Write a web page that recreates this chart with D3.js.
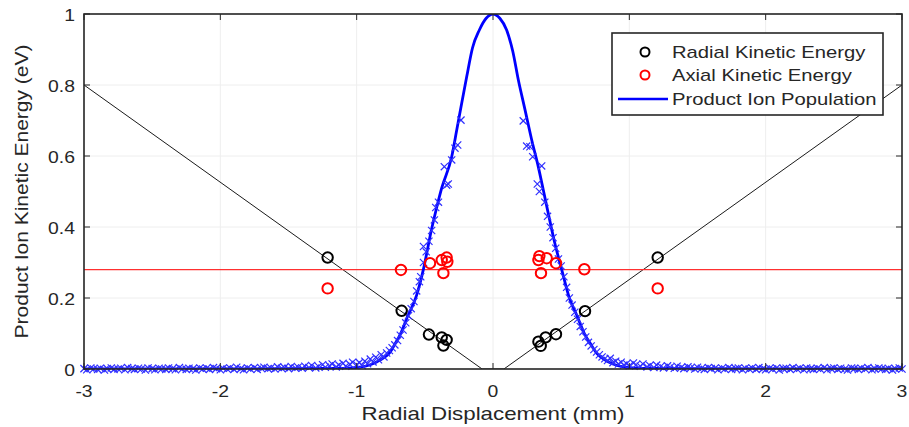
<!DOCTYPE html>
<html>
<head>
<meta charset="utf-8">
<script src="https://cdn.jsdelivr.net/npm/d3@7"></script>
<style>
  body { margin: 0; background: #fff; }
  svg { display: block; font-family: "Liberation Sans", Arial, sans-serif; }
</style>
</head>
<body>
<svg id="chart" width="909" height="427"></svg>
<script>

// ---- data ----
let x_ticks = [-3, -2, -1, 0, 1, 2, 3];
let y_ticks = [0, 0.2, 0.4, 0.6, 0.8, 1];
let y_tick_labels = ["0", "0.2", "0.4", "0.6", "0.8", "1"];

// radial kinetic energy (black circles)
let radial_x = [-1.213, -0.670, -0.470, -0.376, -0.340, -0.364, 1.208, 0.675, 0.462, 0.386, 0.333, 0.350];
let radial_y = [0.314, 0.164, 0.097, 0.089, 0.082, 0.066, 0.314, 0.163, 0.098, 0.089, 0.077, 0.065];

// axial kinetic energy (red circles)
let axial_x = [-1.213, -0.675, -0.462, -0.376, -0.340, -0.335, -0.364, 1.208, 0.670, 0.462, 0.394, 0.333, 0.340, 0.352];
let axial_y = [0.227, 0.279, 0.298, 0.307, 0.314, 0.302, 0.270, 0.227, 0.281, 0.298, 0.312, 0.307, 0.318, 0.270];

// linear fit of the radial energy (V shape) and mean axial energy
let fit_x = [-3, -0.08, 0.08, 3];
let fit_y = [0.8, 0, 0, 0.8];
let axial_mean_x = [-3, 3];
let axial_mean_y = [0.28, 0.28];

// product ion population curve
let pop_x = [-3, -2, -1.5, -1.1, -0.976, -0.9, -0.853, -0.8, -0.756, -0.72, -0.682, -0.63, -0.56, -0.511, -0.45, -0.413,
             -0.376, -0.303, -0.266, -0.230, -0.193, -0.150, -0.100, -0.050, 0,
             0.050, 0.100, 0.145, 0.186, 0.235, 0.284, 0.332, 0.369, 0.41, 0.45, 0.504, 0.56, 0.614, 0.67, 0.72,
             0.76, 0.82, 0.88, 0.956, 1.1, 1.5, 2, 3];
let pop_y = [0, 0, 0.001, 0.002, 0.005, 0.012, 0.02, 0.032, 0.047, 0.07, 0.096, 0.145, 0.208, 0.28, 0.395, 0.455,
             0.51, 0.598, 0.673, 0.748, 0.823, 0.905, 0.955, 0.988, 1,
             0.988, 0.955, 0.895, 0.814, 0.73, 0.645, 0.57, 0.504, 0.43, 0.36, 0.28, 0.2, 0.152, 0.1, 0.068,
             0.045, 0.026, 0.014, 0.006, 0.002, 0.001, 0, 0];

// simulated ions (blue crosses): flat wings and the central peak
let wing_left_x = [
  -3.00, -2.98, -2.95, -2.93, -2.90, -2.88, -2.85, -2.83, -2.80, -2.78, -2.75, -2.73, -2.70, -2.68, -2.65, -2.63,
  -2.60, -2.58, -2.55, -2.53, -2.50, -2.48, -2.45, -2.43, -2.40, -2.38, -2.35, -2.33, -2.30, -2.28, -2.25, -2.23,
  -2.20, -2.18, -2.15, -2.13, -2.10, -2.08, -2.05, -2.03, -2.00, -1.98, -1.95, -1.93, -1.90, -1.88, -1.85, -1.83,
  -1.80, -1.78, -1.75, -1.73, -1.70, -1.68, -1.65, -1.63, -1.60, -1.58, -1.55, -1.53, -1.50, -1.48, -1.45, -1.43,
  -1.40, -1.38, -1.35, -1.33, -1.30, -1.28, -1.25, -1.23, -1.20, -1.18, -1.15, -1.13, -1.10, -1.08, -1.05, -1.03
];
let wing_left_y = [
  0.001, -0.002, 0.003, 0.000, -0.001, 0.002, -0.003, 0.001, 0.003, -0.001, 0.000, 0.002, -0.002, 0.004, 0.001, -0.001,
  0.002, 0.000, -0.003, 0.003, 0.001, -0.002, 0.002, 0.000, -0.001, 0.003, 0.001, -0.002, 0.004, 0.000, -0.001, 0.002,
  0.001, -0.003, 0.003, 0.000, 0.002, -0.001, 0.004, 0.001, -0.002, 0.002, 0.000, 0.003, -0.001, 0.005, 0.001, -0.002,
  0.003, 0.000, 0.004, -0.001, 0.002, 0.005, 0.001, 0.003, 0.000, 0.006, 0.002, 0.004, 0.001, 0.007, 0.003, 0.005,
  0.002, 0.008, 0.004, 0.010, 0.003, 0.007, 0.012, 0.005, 0.009, 0.014, 0.006, 0.011, 0.016, 0.008, 0.013, 0.019
];
let wing_right_x = [
  1.03, 1.05, 1.08, 1.10, 1.13, 1.15, 1.18, 1.20, 1.23, 1.25, 1.28, 1.30, 1.33, 1.35, 1.38, 1.40,
  1.43, 1.45, 1.48, 1.50, 1.53, 1.55, 1.58, 1.60, 1.63, 1.65, 1.68, 1.70, 1.73, 1.75, 1.78, 1.80,
  1.83, 1.85, 1.88, 1.90, 1.93, 1.95, 1.98, 2.00, 2.03, 2.05, 2.08, 2.10, 2.13, 2.15, 2.18, 2.20,
  2.23, 2.25, 2.28, 2.30, 2.33, 2.35, 2.38, 2.40, 2.43, 2.45, 2.48, 2.50, 2.53, 2.55, 2.58, 2.60,
  2.63, 2.65, 2.68, 2.70, 2.73, 2.75, 2.78, 2.80, 2.83, 2.85, 2.88, 2.90, 2.93, 2.95, 2.98, 3.00
];
let wing_right_y = [
  0.017, 0.012, 0.008, 0.014, 0.006, 0.010, 0.004, 0.011, 0.007, 0.003, 0.009, 0.005, 0.002, 0.008, 0.004, 0.001,
  0.006, 0.003, 0.000, 0.005, 0.002, -0.001, 0.004, 0.001, 0.003, -0.002, 0.002, 0.000, 0.004, -0.001, 0.001, 0.003,
  -0.002, 0.002, 0.000, 0.003, -0.001, 0.004, 0.001, -0.002, 0.002, 0.000, 0.003, -0.003, 0.001, 0.002, -0.001, 0.004,
  0.000, 0.002, -0.002, 0.003, 0.001, -0.001, 0.002, 0.000, 0.004, -0.002, 0.001, 0.003, -0.001, 0.002, 0.000, -0.003,
  0.003, 0.001, -0.001, 0.002, 0.000, 0.004, -0.002, 0.001, 0.003, 0.000, -0.001, 0.002, -0.003, 0.001, 0.003, 0.000
];
let peak_left_x = [
  -1.00, -0.98, -0.96, -0.94, -0.92, -0.90, -0.88, -0.86, -0.84, -0.82, -0.80, -0.78, -0.76, -0.74, -0.72, -0.70,
  -0.68, -0.66, -0.64, -0.62, -0.60, -0.58, -0.56, -0.54, -0.53, -0.51, -0.51, -0.49, -0.47, -0.45, -0.43, -0.42,
  -0.40, -0.357, -0.34, -0.328, -0.303, -0.279, -0.259, -0.235
];
let peak_left_y = [
  0.012, 0.018, 0.010, 0.022, 0.015, 0.028, 0.020, 0.033, 0.026, 0.040, 0.034, 0.045, 0.052, 0.060, 0.068, 0.080,
  0.095, 0.11, 0.13, 0.15, 0.17, 0.19, 0.22, 0.246, 0.26, 0.30, 0.345, 0.33, 0.36, 0.39, 0.42, 0.455,
  0.47, 0.570, 0.518, 0.521, 0.589, 0.622, 0.631, 0.701
];
let peak_right_x = [
  0.222, 0.247, 0.271, 0.291, 0.325, 0.34, 0.357, 0.38, 0.40, 0.42, 0.44, 0.46, 0.48, 0.50, 0.52, 0.54,
  0.56, 0.58, 0.60, 0.62, 0.64, 0.66, 0.68, 0.70, 0.72, 0.74, 0.76, 0.78, 0.80, 0.82, 0.84, 0.86,
  0.88, 0.90, 0.92, 0.94, 0.96, 0.98, 1.00
];
let peak_right_y = [
  0.699, 0.628, 0.626, 0.598, 0.521, 0.50, 0.572, 0.47, 0.43, 0.40, 0.37, 0.34, 0.31, 0.29, 0.26, 0.23,
  0.20, 0.18, 0.16, 0.14, 0.12, 0.105, 0.09, 0.075, 0.065, 0.055, 0.048, 0.040, 0.034, 0.029, 0.024, 0.030,
  0.018, 0.022, 0.014, 0.019, 0.011, 0.015, 0.009
];

let legend_labels = ["Radial Kinetic Energy", "Axial Kinetic Energy", "Product Ion Population"];


function draw_chart( svg_id ){

    let svg = d3.select(svg_id);
    let left = 84, right = 902, top = 14, bottom = 369;
    let axis_col = "#262626";

    let x = d3.scaleLinear().domain([-3, 3]).range([left, right]);
    let y = d3.scaleLinear().domain([0, 1]).range([bottom, top]);

    // text is a bit wider than Arial in the original, so stretch it sideways
    function add_text( g, str, tx, ty, size, anchor, sx, rot=0 ){
        g.append("text")
            .attr("transform", "translate(" + tx + "," + ty + ") rotate(" + rot + ") scale(" + sx + ",1)")
            .attr("text-anchor", anchor)
            .style("font-size", size + "px")
            .attr("fill", axis_col)
            .text(str);
    }

    svg.append("defs").append("clipPath").attr("id", "plot_clip")
        .append("rect")
        .attr("x", left).attr("y", top)
        .attr("width", right - left).attr("height", bottom - top);

    // faint grid
    let grid = svg.append("g").attr("stroke", "#eeeeee").attr("stroke-width", 1);
    x_ticks.forEach( function(t){
        grid.append("line").attr("x1", x(t)).attr("x2", x(t)).attr("y1", top).attr("y2", bottom);
    });
    y_ticks.forEach( function(t){
        grid.append("line").attr("x1", left).attr("x2", right).attr("y1", y(t)).attr("y2", y(t));
    });

    let plot = svg.append("g").attr("clip-path", "url(#plot_clip)");
    let line = d3.line().x(d => x(d[0])).y(d => y(d[1]));

    // fits
    plot.append("path")
        .attr("d", line( d3.zip(fit_x, fit_y) ))
        .attr("fill", "none").attr("stroke", "#1a1a1a").attr("stroke-width", 1);
    plot.append("path")
        .attr("d", line( d3.zip(axial_mean_x, axial_mean_y) ))
        .attr("fill", "none").attr("stroke", "#ff3030").attr("stroke-width", 1.2);

    // ion crosses (markers are not clipped, like the original)
    let ions = d3.zip(wing_left_x, wing_left_y)
        .concat( d3.zip(peak_left_x, peak_left_y) )
        .concat( d3.zip(peak_right_x, peak_right_y) )
        .concat( d3.zip(wing_right_x, wing_right_y) );
    let s = 3.6;
    svg.append("g").selectAll("path")
        .data(ions)
        .enter().append("path")
        .attr("d", function(d){
            let cx = x(d[0]), cy = y(d[1]);
            return "M" + (cx-s) + "," + (cy-s) + "L" + (cx+s) + "," + (cy+s) +
                   "M" + (cx-s) + "," + (cy+s) + "L" + (cx+s) + "," + (cy-s);
        })
        .attr("stroke", "#2f2fff").attr("stroke-width", 1.2).attr("fill", "none");

    // population curve
    plot.append("path")
        .attr("d", d3.line().x(d => x(d[0])).y(d => y(d[1])).curve(d3.curveMonotoneX)( d3.zip(pop_x, pop_y) ))
        .attr("fill", "none").attr("stroke", "#0000ff").attr("stroke-width", 2.8);

    // circles
    function draw_circles( xs, ys, col ){
        svg.append("g").selectAll("circle")
            .data( d3.zip(xs, ys) )
            .enter().append("circle")
            .attr("cx", d => x(d[0])).attr("cy", d => y(d[1]))
            .attr("r", 5.2)
            .attr("fill", "none").attr("stroke", col).attr("stroke-width", 2);
    }
    draw_circles( axial_x, axial_y, "#ff0000" );
    draw_circles( radial_x, radial_y, "#000000" );

    // axes box + inward ticks
    let ax = svg.append("g").attr("stroke", axis_col).attr("stroke-width", 1);
    x_ticks.forEach( function(t){
        ax.append("line").attr("x1", x(t)).attr("x2", x(t)).attr("y1", bottom).attr("y2", bottom - 6);
        ax.append("line").attr("x1", x(t)).attr("x2", x(t)).attr("y1", top).attr("y2", top + 6);
    });
    y_ticks.forEach( function(t){
        ax.append("line").attr("x1", left).attr("x2", left + 6).attr("y1", y(t)).attr("y2", y(t));
        ax.append("line").attr("x1", right).attr("x2", right - 6).attr("y1", y(t)).attr("y2", y(t));
    });
    svg.append("rect")
        .attr("x", left).attr("y", top).attr("width", right - left).attr("height", bottom - top)
        .attr("fill", "none").attr("stroke", axis_col).attr("stroke-width", 1.6);

    // tick labels
    let lab = svg.append("g");
    x_ticks.forEach( function(t){
        add_text( lab, String(t), x(t), bottom + 28, 17, "middle", 1.14 );
    });
    y_ticks.forEach( function(t, i){
        add_text( lab, y_tick_labels[i], left - 9, y(t) + 7, 17, "end", 1.14 );
    });

    // axis titles
    add_text( svg, "Radial Displacement (mm)", (left + right) / 2, 420, 18, "middle", 1.24 );
    add_text( svg, "Product Ion Kinetic Energy (eV)", 28, (top + bottom) / 2, 17.5, "middle", 1.2, -90 );

    // legend
    let lg = svg.append("g");
    lg.append("rect")
        .attr("x", 612).attr("y", 33).attr("width", 271).attr("height", 82)
        .attr("fill", "#ffffff").attr("stroke", axis_col).attr("stroke-width", 1.6);
    let rows = [52, 75, 99];
    lg.append("circle").attr("cx", 645).attr("cy", rows[0]).attr("r", 4.5)
        .attr("fill", "none").attr("stroke", "#000000").attr("stroke-width", 2);
    lg.append("circle").attr("cx", 645).attr("cy", rows[1]).attr("r", 4.5)
        .attr("fill", "none").attr("stroke", "#ff0000").attr("stroke-width", 2);
    lg.append("line").attr("x1", 618).attr("x2", 668).attr("y1", rows[2]).attr("y2", rows[2])
        .attr("stroke", "#0000ff").attr("stroke-width", 2.6);
    legend_labels.forEach( function(l, i){
        add_text( lg, l, 672, rows[i] + 5.5, 17, "start", 1.19 );
    });
}

draw_chart("#chart");

</script>
</body>
</html>
